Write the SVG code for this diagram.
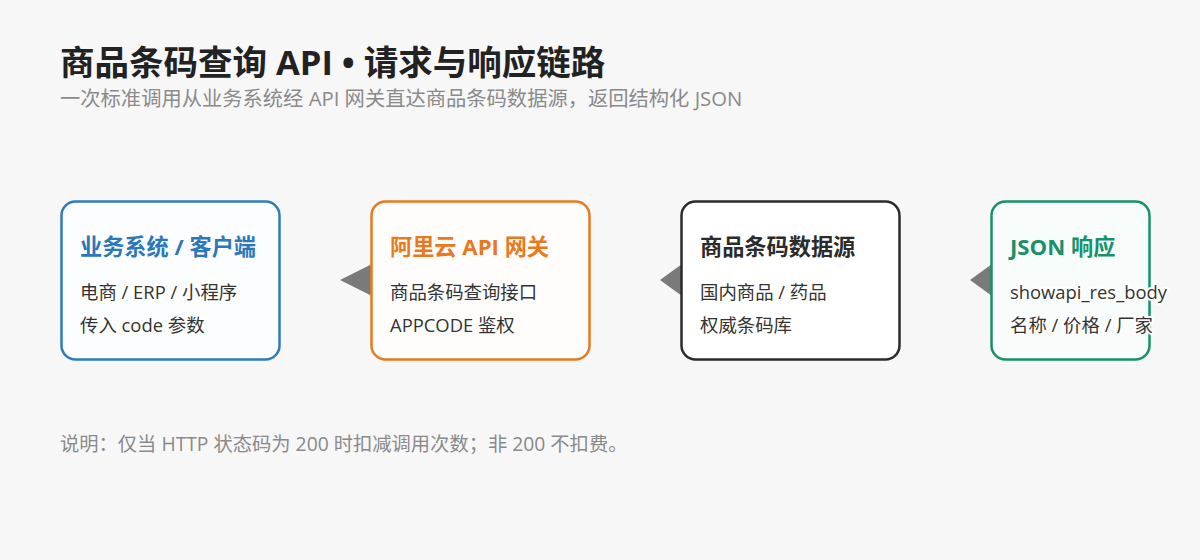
<svg xmlns="http://www.w3.org/2000/svg" width="1200" height="560" viewBox="0 0 1200 560">
<style>
text{font-family:"Open Sans","Noto Sans CJK SC",sans-serif}
.title{font-size:34.5px;font-weight:700;fill:#222}
.sub{font-size:20.3px;fill:#8a8a8a}
.nt{font-size:22.2px;font-weight:700}
.nb{font-size:18.4px;fill:#333;stroke:#fff;stroke-width:4px;paint-order:stroke;stroke-linejoin:round}
.box{stroke-width:2.5}
.note{font-size:19.3px;fill:#8a8a8a}
.arr{fill:#7a7a7a}
</style>
<rect width="1200" height="560" fill="#f7f7f8"/>
<text class="title" x="60" y="75">商品条码查询 API • 请求与响应链路</text>
<text class="sub" x="60" y="106">一次标准调用从业务系统经 API 网关直达商品条码数据源，返回结构化 JSON</text>
<g id="connectors">
<polygon class="arr" points="340,280 372,264 372,296"/>
<polygon class="arr" points="660,280 682,264 682,296"/>
<polygon class="arr" points="970,280 992,264 992,296"/>
</g>
<g id="node-client">
<rect class="box" x="61.5" y="201.5" width="218" height="158" rx="14" fill="#fbfdff" stroke="#2f7bbd"/>
<text class="nt" x="80" y="255" fill="#2a78b8">业务系统 / 客户端</text>
<text class="nb" x="80" y="299">电商 / ERP / 小程序</text>
<text class="nb" x="80" y="332">传入 code 参数</text>
</g>
<g id="node-gateway">
<rect class="box" x="371.5" y="201.5" width="218" height="158" rx="14" fill="#fffdfb" stroke="#e8791e"/>
<text class="nt" x="390" y="255" fill="#e8791e">阿里云 API 网关</text>
<text class="nb" x="390" y="299">商品条码查询接口</text>
<text class="nb" x="390" y="332">APPCODE 鉴权</text>
</g>
<g id="node-source">
<rect class="box" x="681.5" y="201.5" width="218" height="158" rx="14" fill="#ffffff" stroke="#2b2b2b"/>
<text class="nt" x="700" y="255" fill="#2b2b2b">商品条码数据源</text>
<text class="nb" x="700" y="299">国内商品 / 药品</text>
<text class="nb" x="700" y="332">权威条码库</text>
</g>
<g id="node-json">
<rect class="box" x="991.5" y="201.5" width="158" height="158" rx="14" fill="#f8fcfa" stroke="#17916a"/>
<text class="nt" x="1010" y="255" fill="#17916a">JSON 响应</text>
<text class="nb" x="1010" y="299">showapi_res_body</text>
<text class="nb" x="1010" y="332">名称 / 价格 / 厂家</text>
</g>
<text class="note" x="60" y="451">说明：仅当 HTTP 状态码为 200 时扣减调用次数；非 200 不扣费。</text>
</svg>
